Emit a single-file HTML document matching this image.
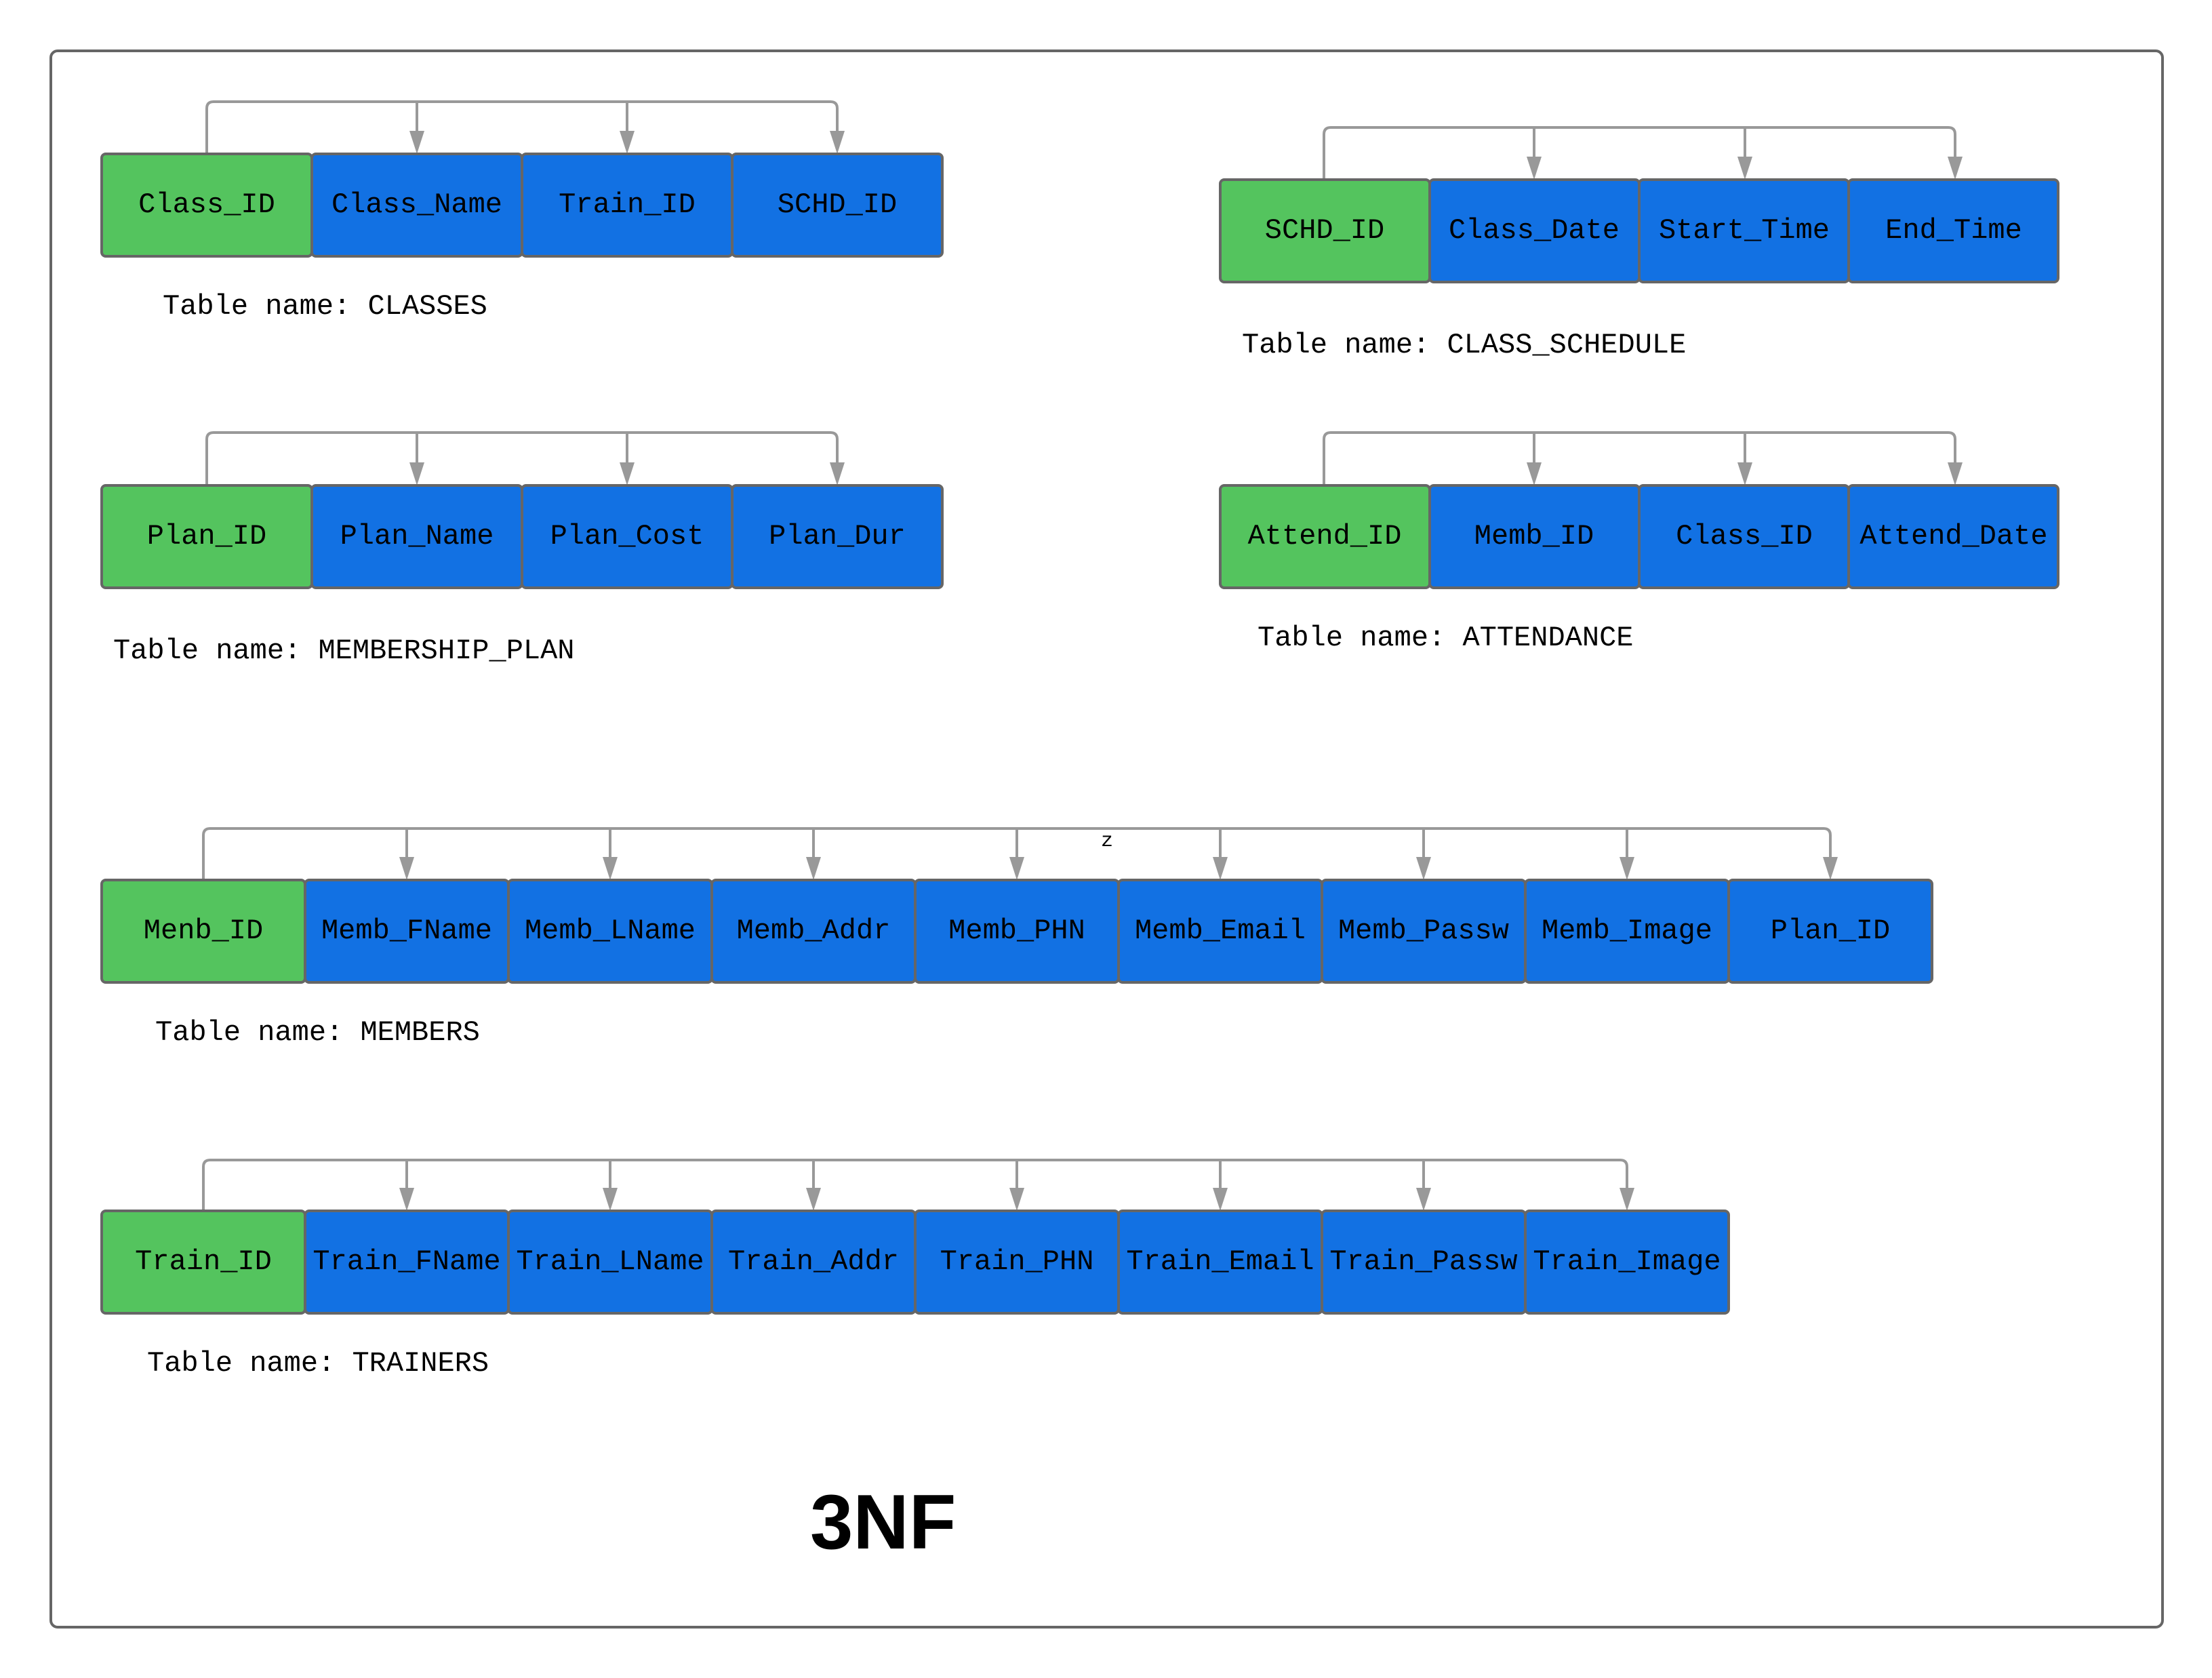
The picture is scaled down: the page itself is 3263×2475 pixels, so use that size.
<!DOCTYPE html>
<html><head><meta charset="utf-8"><style>
html,body{margin:0;padding:0;background:#fff;}
svg{display:block;}
.b{stroke:#666;stroke-width:4;}
.g{fill:#54c45e;}
.u{fill:#1271e3;}
.t{font-family:"Liberation Mono",monospace;font-size:42px;fill:#000;text-anchor:middle;dominant-baseline:central;}
.l{font-family:"Liberation Mono",monospace;font-size:42px;fill:#000;dominant-baseline:central;}
.c{fill:none;stroke:#999;stroke-width:4;}
.a{fill:#999;}
</style></head><body>
<svg width="3263" height="2475" viewBox="0 0 3263 2475" xmlns="http://www.w3.org/2000/svg">
<rect x="75" y="75" width="3115" height="2325" rx="10" fill="none" stroke="#666" stroke-width="4"/>

<!-- CLASSES -->
<path class="c" d="M305 227 V160 Q305 150 315 150 H1225 Q1235 150 1235 160 V200 M615 150 V200 M925 150 V200"/>
<polygon class="a" points="604,193 626,193 615,227"/><polygon class="a" points="914,193 936,193 925,227"/><polygon class="a" points="1224,193 1246,193 1235,227"/>
<rect class="b g" x="150" y="227" width="310" height="151" rx="6"/>
<rect class="b u" x="460" y="227" width="310" height="151" rx="6"/>
<rect class="b u" x="770" y="227" width="310" height="151" rx="6"/>
<rect class="b u" x="1080" y="227" width="310" height="151" rx="6"/>
<text class="t" x="305" y="302">Class_ID</text><text class="t" x="615" y="302">Class_Name</text><text class="t" x="925" y="302">Train_ID</text><text class="t" x="1235" y="302">SCHD_ID</text>
<text class="l" x="240" y="452">Table name: CLASSES</text>

<!-- CLASS_SCHEDULE -->
<path class="c" d="M1953 265 V198 Q1953 188 1963 188 H2874 Q2884 188 2884 198 V238 M2263 188 V238 M2574 188 V238"/>
<polygon class="a" points="2252,231 2274,231 2263,265"/><polygon class="a" points="2563,231 2585,231 2574,265"/><polygon class="a" points="2873,231 2895,231 2884,265"/>
<rect class="b g" x="1800" y="265" width="309" height="151" rx="6"/>
<rect class="b u" x="2109" y="265" width="309" height="151" rx="6"/>
<rect class="b u" x="2418" y="265" width="309" height="151" rx="6"/>
<rect class="b u" x="2727" y="265" width="309" height="151" rx="6"/>
<text class="t" x="1954" y="340">SCHD_ID</text><text class="t" x="2263" y="340">Class_Date</text><text class="t" x="2573" y="340">Start_Time</text><text class="t" x="2882" y="340">End_Time</text>
<text class="l" x="1832" y="509">Table name: CLASS_SCHEDULE</text>

<!-- MEMBERSHIP_PLAN -->
<path class="c" d="M305 716 V648 Q305 638 315 638 H1225 Q1235 638 1235 648 V690 M615 638 V690 M925 638 V690"/>
<polygon class="a" points="604,682 626,682 615,716"/><polygon class="a" points="914,682 936,682 925,716"/><polygon class="a" points="1224,682 1246,682 1235,716"/>
<rect class="b g" x="150" y="716" width="310" height="151" rx="6"/>
<rect class="b u" x="460" y="716" width="310" height="151" rx="6"/>
<rect class="b u" x="770" y="716" width="310" height="151" rx="6"/>
<rect class="b u" x="1080" y="716" width="310" height="151" rx="6"/>
<text class="t" x="305" y="791">Plan_ID</text><text class="t" x="615" y="791">Plan_Name</text><text class="t" x="925" y="791">Plan_Cost</text><text class="t" x="1235" y="791">Plan_Dur</text>
<text class="l" x="167" y="960">Table name: MEMBERSHIP_PLAN</text>

<!-- ATTENDANCE -->
<path class="c" d="M1953 716 V648 Q1953 638 1963 638 H2874 Q2884 638 2884 648 V690 M2263 638 V690 M2574 638 V690"/>
<polygon class="a" points="2252,682 2274,682 2263,716"/><polygon class="a" points="2563,682 2585,682 2574,716"/><polygon class="a" points="2873,682 2895,682 2884,716"/>
<rect class="b g" x="1800" y="716" width="309" height="151" rx="6"/>
<rect class="b u" x="2109" y="716" width="309" height="151" rx="6"/>
<rect class="b u" x="2418" y="716" width="309" height="151" rx="6"/>
<rect class="b u" x="2727" y="716" width="309" height="151" rx="6"/>
<text class="t" x="1954" y="791">Attend_ID</text><text class="t" x="2263" y="791">Memb_ID</text><text class="t" x="2573" y="791">Class_ID</text><text class="t" x="2882" y="791">Attend_Date</text>
<text class="l" x="1855" y="941">Table name: ATTENDANCE</text>

<!-- MEMBERS -->
<path class="c" d="M300 1298 V1232 Q300 1222 310 1222 H2690 Q2700 1222 2700 1232 V1272 M600 1222 V1272 M900 1222 V1272 M1200 1222 V1272 M1500 1222 V1272 M1800 1222 V1272 M2100 1222 V1272 M2400 1222 V1272"/>
<polygon class="a" points="589,1264 611,1264 600,1298"/><polygon class="a" points="889,1264 911,1264 900,1298"/><polygon class="a" points="1189,1264 1211,1264 1200,1298"/><polygon class="a" points="1489,1264 1511,1264 1500,1298"/><polygon class="a" points="1789,1264 1811,1264 1800,1298"/><polygon class="a" points="2089,1264 2111,1264 2100,1298"/><polygon class="a" points="2389,1264 2411,1264 2400,1298"/><polygon class="a" points="2689,1264 2711,1264 2700,1298"/>
<text x="1633" y="1241" font-family="Liberation Mono,monospace" font-size="30" text-anchor="middle" dominant-baseline="central">z</text>
<rect class="b g" x="150" y="1298" width="300" height="151" rx="6"/>
<rect class="b u" x="450" y="1298" width="300" height="151" rx="6"/>
<rect class="b u" x="750" y="1298" width="300" height="151" rx="6"/>
<rect class="b u" x="1050" y="1298" width="300" height="151" rx="6"/>
<rect class="b u" x="1350" y="1298" width="300" height="151" rx="6"/>
<rect class="b u" x="1650" y="1298" width="300" height="151" rx="6"/>
<rect class="b u" x="1950" y="1298" width="300" height="151" rx="6"/>
<rect class="b u" x="2250" y="1298" width="300" height="151" rx="6"/>
<rect class="b u" x="2550" y="1298" width="300" height="151" rx="6"/>
<text class="t" x="300" y="1373">Menb_ID</text><text class="t" x="600" y="1373">Memb_FName</text><text class="t" x="900" y="1373">Memb_LName</text><text class="t" x="1200" y="1373">Memb_Addr</text><text class="t" x="1500" y="1373">Memb_PHN</text><text class="t" x="1800" y="1373">Memb_Email</text><text class="t" x="2100" y="1373">Memb_Passw</text><text class="t" x="2400" y="1373">Memb_Image</text><text class="t" x="2700" y="1373">Plan_ID</text>
<text class="l" x="229" y="1523">Table name: MEMBERS</text>

<!-- TRAINERS -->
<path class="c" d="M300 1786 V1721 Q300 1711 310 1711 H2390 Q2400 1711 2400 1721 V1760 M600 1711 V1760 M900 1711 V1760 M1200 1711 V1760 M1500 1711 V1760 M1800 1711 V1760 M2100 1711 V1760"/>
<polygon class="a" points="589,1752 611,1752 600,1786"/><polygon class="a" points="889,1752 911,1752 900,1786"/><polygon class="a" points="1189,1752 1211,1752 1200,1786"/><polygon class="a" points="1489,1752 1511,1752 1500,1786"/><polygon class="a" points="1789,1752 1811,1752 1800,1786"/><polygon class="a" points="2089,1752 2111,1752 2100,1786"/><polygon class="a" points="2389,1752 2411,1752 2400,1786"/>
<rect class="b g" x="150" y="1786" width="300" height="151" rx="6"/>
<rect class="b u" x="450" y="1786" width="300" height="151" rx="6"/>
<rect class="b u" x="750" y="1786" width="300" height="151" rx="6"/>
<rect class="b u" x="1050" y="1786" width="300" height="151" rx="6"/>
<rect class="b u" x="1350" y="1786" width="300" height="151" rx="6"/>
<rect class="b u" x="1650" y="1786" width="300" height="151" rx="6"/>
<rect class="b u" x="1950" y="1786" width="300" height="151" rx="6"/>
<rect class="b u" x="2250" y="1786" width="300" height="151" rx="6"/>
<text class="t" x="300" y="1861">Train_ID</text><text class="t" x="600" y="1861">Train_FName</text><text class="t" x="900" y="1861">Train_LName</text><text class="t" x="1200" y="1861">Train_Addr</text><text class="t" x="1500" y="1861">Train_PHN</text><text class="t" x="1800" y="1861">Train_Email</text><text class="t" x="2100" y="1861">Train_Passw</text><text class="t" x="2400" y="1861">Train_Image</text>
<text class="l" x="217" y="2011">Table name: TRAINERS</text>

<text x="1195" y="2284" font-family="Liberation Sans,sans-serif" font-weight="bold" font-size="114">3NF</text>
</svg>
</body></html>
